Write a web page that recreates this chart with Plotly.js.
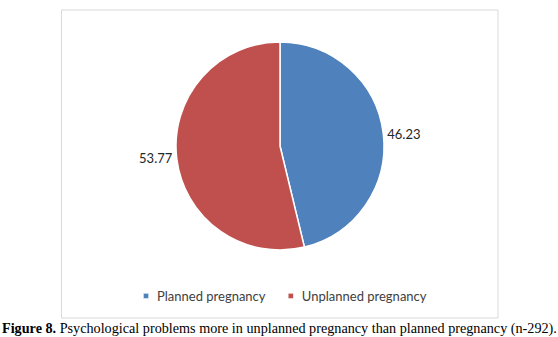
<!DOCTYPE html>
<html>
<head>
<meta charset="utf-8">
<script src="https://cdn.plot.ly/plotly-3.0.1.min.js"></script>
<style>html,body{margin:0;padding:0;background:#fff;}#chart{width:558px;height:337px;}</style>
</head>
<body>
<div id="chart"></div>
<script>
const categories = ["Planned pregnancy", "Unplanned pregnancy"];
const values = [46.23, 53.77];
const sliceColors = ["#4F81BD", "#C0504D"];
const captionBold = "Figure 8.";
const captionText = " Psychological problems more in unplanned pregnancy than planned pregnancy (n-292).";

const W = 558, H = 337;
const px = x => x / W;
const py = y => 1 - y / H;

const trace = {
  type: "pie",
  labels: categories,
  values: values,
  sort: false,
  direction: "clockwise",
  rotation: 0,
  marker: {colors: sliceColors, line: {color: "#ffffff", width: 1.5}},
  textinfo: "value",
  texttemplate: "%{value:.2f}",
  textposition: "outside",
  outsidetextfont: {family: "Lato, 'Open Sans', sans-serif", size: 13, color: "#262626"},
  hoverinfo: "label+value",
  domain: {x: [px(160), px(400)], y: [py(250), py(42)]},
  automargin: false
};

const layout = {
  width: W, height: H,
  margin: {l: 0, r: 0, t: 0, b: 0},
  paper_bgcolor: "#ffffff",
  showlegend: true,
  legend: {
    orientation: "h",
    x: px(279), xanchor: "center",
    y: py(296), yanchor: "middle",
    font: {family: "Lato, 'Open Sans', sans-serif", size: 13, color: "#404040"},
    itemwidth: 30,
    tracegroupgap: 0
  },
  shapes: [{
    type: "rect", xref: "paper", yref: "paper",
    x0: px(61.5), x1: px(498), y0: py(318), y1: py(10),
    line: {color: "#D9D9D9", width: 1}, fillcolor: "rgba(0,0,0,0)", layer: "below"
  }],
  annotations: [{
    xref: "paper", yref: "paper",
    x: px(279), y: py(328), xanchor: "center", yanchor: "middle",
    showarrow: false,
    text: "<b>" + captionBold + "</b>" + captionText,
    font: {family: "'Liberation Serif', 'Times New Roman', serif", size: 14.2, color: "#000000"}
  }]
};

Plotly.newPlot("chart", [trace], layout, {displayModeBar: false, staticPlot: true}).then(function () {
  document.querySelectorAll("#chart .legendpoints path").forEach(function (p) {
    const t = p.getAttribute("transform") || "";
    p.setAttribute("transform", t + " translate(9,0) scale(0.45)");
  });
  const items = document.querySelectorAll("#chart .legend .traces");
  if (items.length > 1) {
    const g = items[1];
    const t = g.getAttribute("transform") || "";
    g.setAttribute("transform", "translate(-9,0) " + t);
  }
});
</script>
</body>
</html>
